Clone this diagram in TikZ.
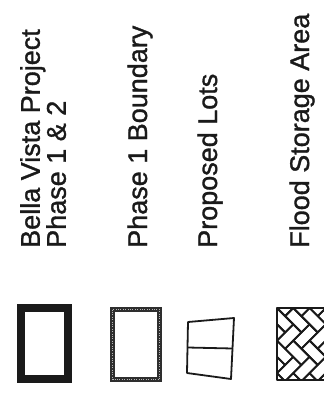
\documentclass[tikz,border=0pt]{standalone}
\usepackage{fontspec}
\setmainfont{Liberation Sans}
\newfontfamily\legendfont{Liberation Sans}[FakeBold=1.2]
\usepackage{tikz}
\usetikzlibrary{calc}
\definecolor{inkgray}{HTML}{1A1A1A}
\definecolor{stipple}{HTML}{2E2E2E}

\tikzset{
  legendtext/.style={rotate=90, inner sep=0pt, text=inkgray,
                     font=\legendfont\fontsize{27}{26}\selectfont},
  lotline/.style={draw=inkgray, line width=1.8pt, line join=round},
}

\begin{document}
\begin{tikzpicture}[x=1pt, y=-1pt]
    \useasboundingbox (0,0) rectangle (324,394);

    % legend labels
    \node[legendtext, anchor=north west, align=left] (bvlabel) at (20,248)
      {Bella Vista Project\\Phase 1 \& 2};
    \node[legendtext, anchor=base west] (p1label)    at (147,248) {Phase 1 Boundary};
    \node[legendtext, anchor=base west] (lotlabel)   at (217,248) {Proposed Lots};
    \node[legendtext, anchor=base west] (floodlabel) at (309,248) {Flood Storage Area};

    % legend symbols
    \draw[draw=inkgray, line width=8pt] (21,307.5) rectangle (68,378.5);
    \draw[draw=stipple, line width=4.5pt] (112.5,309.5) rectangle (159.5,379.5);
    \draw[draw=white!65!stipple, line width=0.8pt, dash pattern=on 0.6pt off 1.8pt]
      (112.5,309.5) rectangle (159.5,379.5);

    \coordinate (lotA) at (188,322);
    \coordinate (lotB) at (234,318);
    \coordinate (lotC) at (231,379);
    \coordinate (lotD) at (187,373);
    \draw[lotline] (lotA) -- (lotB) -- (lotC) -- (lotD) -- cycle;
    \draw[lotline] ($(lotA)!0.5!(lotD)$) -- ($(lotB)!0.5!(lotC)$);

    \begin{scope}
      \clip (277,308) rectangle (330,380);
      \begin{scope}[shift={(277,308)}, rotate=45, scale=11.5]
        \foreach \k in {-10,...,10}
          \foreach \m in {-5,...,5} {
            \draw[lotline] ({\k+2*\m},{\k-2*\m}) rectangle ++(2,1);
            \draw[lotline] ({\k+2*\m+2},{\k-2*\m-1}) rectangle ++(1,2);
          }
      \end{scope}
    \end{scope}
    \draw[lotline, line width=2pt] (277,308) rectangle (330,380);
\end{tikzpicture}
\end{document}
